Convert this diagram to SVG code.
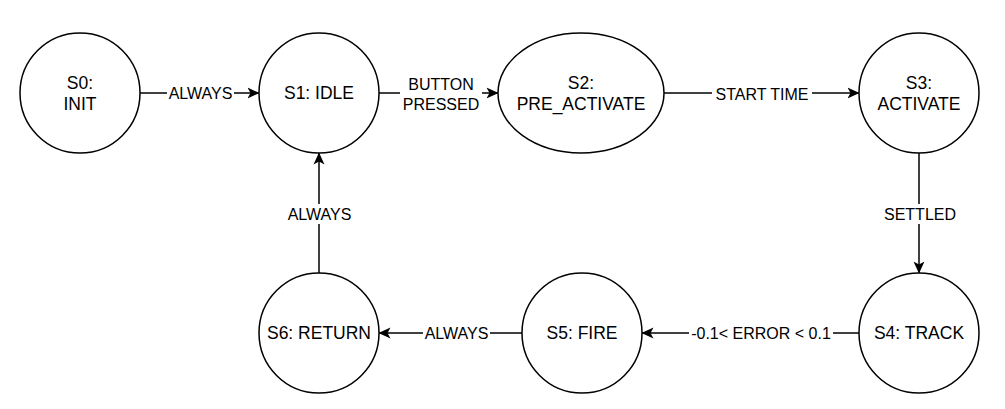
<svg xmlns="http://www.w3.org/2000/svg" width="1005" height="409" viewBox="0 0 1005 409">
<style>
.node ellipse{fill:#fff;stroke:#000;stroke-width:1.5}
.nt{font-family:"Liberation Sans",Arial,sans-serif;font-size:17.5px;fill:#000;text-anchor:middle}
.edge{stroke:#000;stroke-width:1.5;fill:none;marker-end:url(#arr)}
.lb{fill:#fff}
.lt{font-family:"Liberation Sans",Arial,sans-serif;font-size:16px;fill:#000;text-anchor:middle}
</style>
<defs>
<marker id="arr" markerUnits="userSpaceOnUse" viewBox="0 0 12 12" refX="11.5" refY="6" markerWidth="12" markerHeight="12" orient="auto">
<path d="M0,0.5 L12,6 L0,11.5 L3,6 Z" fill="#000" stroke="none"/>
</marker>
</defs>
<rect width="1005" height="409" fill="#fff"/>
<g id="connectors">
<g id="e-s0-s1"><path class="edge" d="M140,93 L259,93"/><rect class="lb" x="167" y="84" width="67" height="18"/><text class="lt" x="200.5" y="99">ALWAYS</text></g>
<g id="e-s1-s2"><path class="edge" d="M379,93 L498,93"/><rect class="lb" x="400" y="75" width="82" height="38"/><text class="lt" x="441" y="90">BUTTON</text><text class="lt" x="441" y="110">PRESSED</text></g>
<g id="e-s2-s3"><path class="edge" d="M664,93 L859,93"/><rect class="lb" x="712" y="84" width="100" height="18"/><text class="lt" x="762" y="99.5">START TIME</text></g>
<g id="e-s3-s4"><path class="edge" d="M919,153 L919,273"/><rect class="lb" x="880" y="204" width="80" height="20"/><text class="lt" x="920" y="220">SETTLED</text></g>
<g id="e-s4-s5"><path class="edge" d="M859,333 L642,333"/><rect class="lb" x="689" y="324" width="144" height="18"/><text class="lt" x="761" y="339">-0.1&lt; ERROR &lt; 0.1</text></g>
<g id="e-s5-s6"><path class="edge" d="M522,333 L379,333"/><rect class="lb" x="423" y="324" width="67" height="18"/><text class="lt" x="456.5" y="339">ALWAYS</text></g>
<g id="e-s6-s1"><path class="edge" d="M319,273 L319,153"/><rect class="lb" x="285" y="204" width="68" height="20"/><text class="lt" x="319.5" y="220">ALWAYS</text></g>
</g>
<g id="S0" class="node"><ellipse cx="80" cy="93" rx="60" ry="60"/><text class="nt" x="80" y="89">S0:</text><text class="nt" x="80" y="110">INIT</text></g>
<g id="S1" class="node"><ellipse cx="319" cy="93" rx="60" ry="60"/><text class="nt" x="319" y="99.3">S1: IDLE</text></g>
<g id="S2" class="node"><ellipse cx="581" cy="93" rx="83" ry="60"/><text class="nt" x="581" y="89">S2:</text><text class="nt" x="581" y="110">PRE_ACTIVATE</text></g>
<g id="S3" class="node"><ellipse cx="919" cy="93" rx="60" ry="60"/><text class="nt" x="919" y="89">S3:</text><text class="nt" x="919" y="110">ACTIVATE</text></g>
<g id="S4" class="node"><ellipse cx="919" cy="333" rx="60" ry="60"/><text class="nt" x="919" y="339.3">S4: TRACK</text></g>
<g id="S5" class="node"><ellipse cx="582" cy="333" rx="60" ry="60"/><text class="nt" x="582" y="339.3">S5: FIRE</text></g>
<g id="S6" class="node"><ellipse cx="319" cy="333" rx="60" ry="60"/><text class="nt" x="319" y="339.3">S6: RETURN</text></g>
</svg>
